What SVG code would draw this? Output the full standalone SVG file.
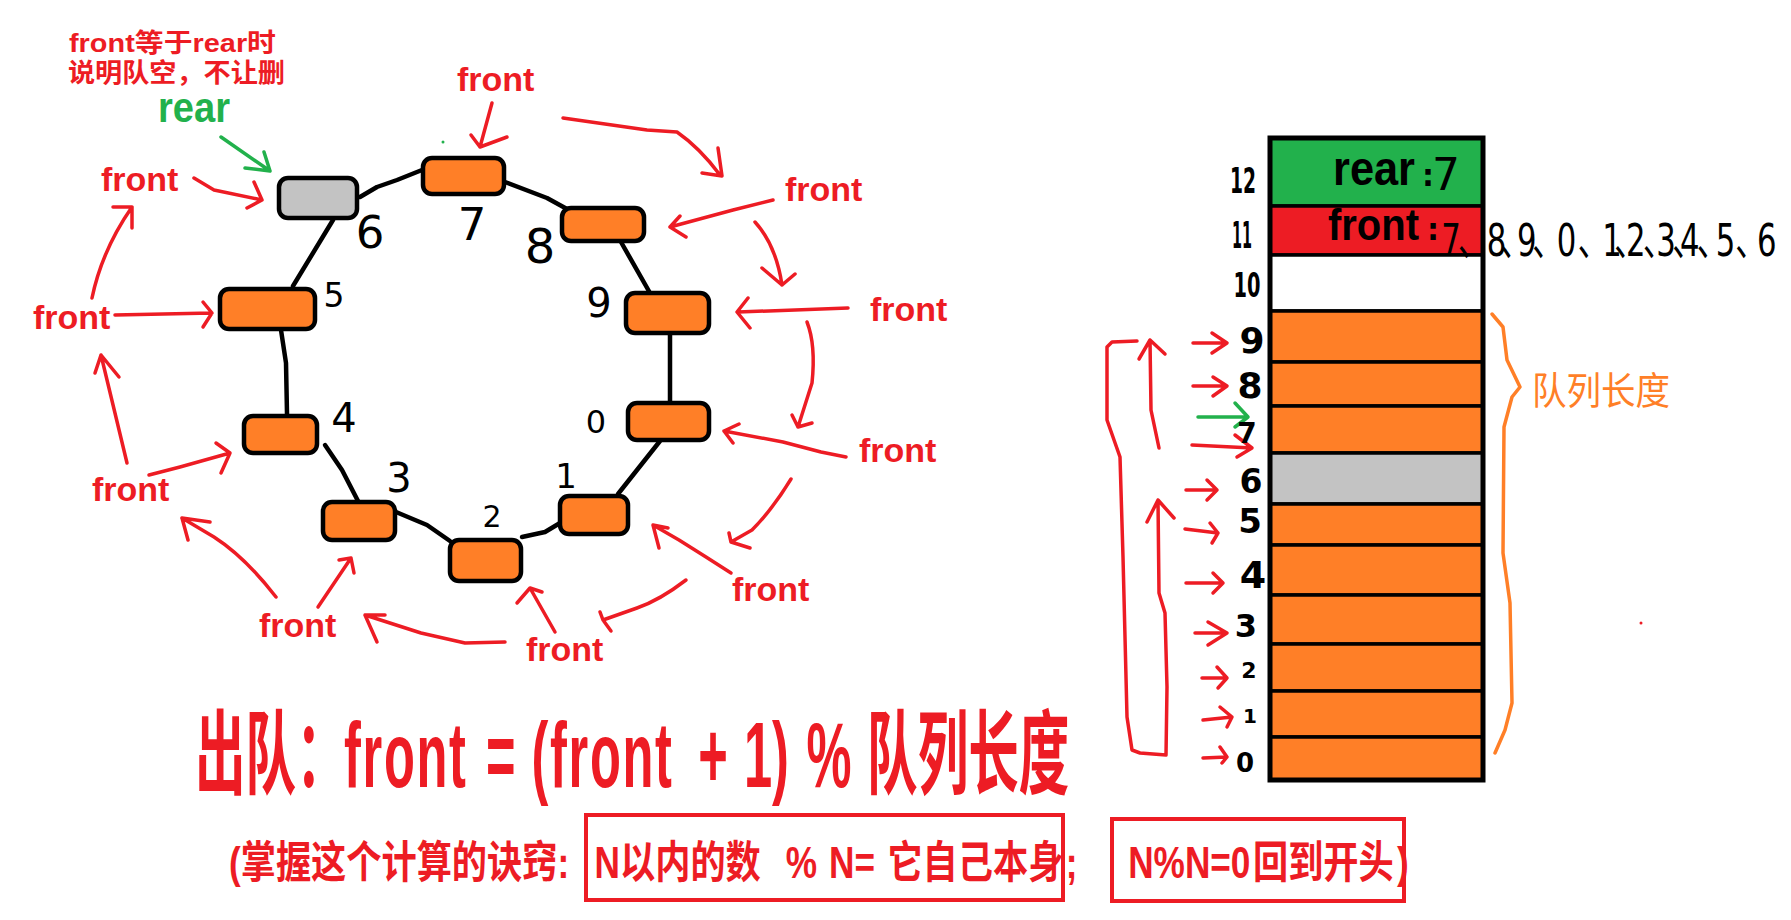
<svg xmlns="http://www.w3.org/2000/svg" width="1791" height="920" viewBox="0 0 1791 920">
<style>
.box{stroke:#000;stroke-width:4.5}
.or{fill:#FF7F27}
.gy{fill:#C3C3C3}
.ring{fill:none;stroke:#000;stroke-width:4.5;stroke-linecap:round;stroke-linejoin:round}
.ra{fill:none;stroke:#ED1C24;stroke-width:3.5;stroke-linecap:round;stroke-linejoin:round}
.ga{fill:none;stroke:#22B14C;stroke-width:3.5;stroke-linecap:round;stroke-linejoin:round}
.oa{fill:none;stroke:#FF7F27;stroke-width:3.5;stroke-linecap:round;stroke-linejoin:round}
.lbl{font-family:'Liberation Sans','Noto Sans CJK SC',sans-serif;font-weight:bold;font-size:34px;fill:#ED1C24}
.cjk{font-family:'Liberation Sans','Noto Sans CJK SC',sans-serif;font-weight:bold;fill:#ED1C24}
.hw{font-family:'DejaVu Sans',sans-serif;fill:#000;text-anchor:middle}
.hwb{font-family:'DejaVu Sans',sans-serif;font-weight:bold;fill:#000;text-anchor:middle}
.cell{stroke:#000;stroke-width:3.5}
.blk{font-family:'Liberation Sans',sans-serif;font-weight:bold;fill:#000}
.ls{letter-spacing:3px}
</style>
<rect width="1791" height="920" fill="#fff"/>

<!-- notes -->
<g id="note">
<text class="cjk" x="69" y="52" font-size="26" textLength="207" lengthAdjust="spacingAndGlyphs">front等于rear时</text>
<text class="cjk" x="68" y="82" font-size="26" textLength="217" lengthAdjust="spacingAndGlyphs">说明队空，不让删</text>
<text x="158" y="122" font-family="'Liberation Sans',sans-serif" font-weight="bold" font-size="42" fill="#22B14C" textLength="72" lengthAdjust="spacingAndGlyphs">rear</text>
</g>

<!-- connectors -->
<g id="connectors">
<path class="ring" d="M333,220 L293,286"/>
<path class="ring" d="M360,197 L377,187 L397,180 L422,170"/>
<path class="ring" d="M505,182 L547,198 L567,209"/>
<path class="ring" d="M621,242 L650,293"/>
<path class="ring" d="M670,333 L670,403"/>
<path class="ring" d="M660,441 L637,470 L618,494"/>
<path class="ring" d="M560,523 L545,532 L522,537"/>
<path class="ring" d="M450,541 L427,525 L396,512"/>
<path class="ring" d="M358,501 L342,470 L325,445"/>
<path class="ring" d="M287,414 L286,363 L281,330"/>

<path class="ra" d="M492,103 L480,147 M471,135 L480,147 L507,137"/>
<path class="ra" d="M563,118 L647,130 L677,132 Q700,148 720,175 M718,148 L722,176 L702,173"/>
<path class="ra" d="M773,200 L733,210 L670,227 M680,216 L670,227 L686,237"/>
<path class="ra" d="M755,222 Q776,245 782,285 M762,268 L782,285 L795,274"/>
<path class="ra" d="M848,308 L738,312 M748,298 L737,312 L750,328"/>
<path class="ra" d="M807,322 Q816,345 812,383 L798,427 M792,415 L798,427 L812,423"/>
<path class="ra" d="M846,457 L821,452 L783,442 L724,431 M739,424 L724,431 L733,443"/>
<path class="ra" d="M791,479 Q772,510 752,530 L731,542 M729,533 L731,542 L750,548"/>
<path class="ra" d="M731,573 L706,557 L679,540 L653,525 M668,528 L653,525 L659,548"/>
<path class="ra" d="M686,580 Q660,600 637,608 L603,620 M600,612 L603,620 L611,631"/>
<path class="ra" d="M555,632 L530,588 M517,603 L530,588 L542,592"/>
<path class="ra" d="M505,642 L465,643 L421,633 L365,615 M385,615 L365,615 L377,642"/>
<path class="ra" d="M318,607 L351,558 M339,560 L351,558 L354,573"/>
<path class="ra" d="M276,597 Q245,557 214,537 L182,518 M188,540 L182,518 L210,522"/>
<path class="ra" d="M149,475 L180,467 L230,453 M216,443 L230,453 L221,473"/>
<path class="ra" d="M127,463 L101,355 M95,373 L101,355 L119,377"/>
<path class="ra" d="M115,315 L212,313 M203,302 L212,313 L203,327"/>
<path class="ra" d="M92,298 Q102,250 132,207 M113,207 L132,207 L132,228"/>
<path class="ra" d="M194,178 L214,190 L262,200 M254,182 L262,200 L247,208"/>
<path class="ga" d="M221,137 L270,171 M264,152 L270,171 L245,168"/>
<circle cx="443" cy="142" r="1.5" fill="#22B14C"/>

<path class="ra" d="M1193,343 L1227,343 M1212,333 L1227,343 L1212,353"/>
<path class="ra" d="M1193,386 L1227,386 M1213,377 L1227,386 L1213,396"/>
<path class="ga" d="M1198,417 L1248,417 M1235,403 L1248,417 L1235,427"/>
<path class="ra" d="M1192,445 L1252,448 M1235,435 L1252,448 L1237,457"/>
<path class="ra" d="M1186,490 L1217,490 M1207,480 L1217,490 L1207,500"/>
<path class="ra" d="M1185,529 L1218,533 M1210,523 L1218,533 L1212,543"/>
<path class="ra" d="M1186,583 L1223,583 M1213,573 L1223,583 L1213,593"/>
<path class="ra" d="M1195,633 L1227,633 M1208,622 L1227,633 L1208,645"/>
<path class="ra" d="M1202,678 L1227,678 M1217,667 L1227,678 L1218,688"/>
<path class="ra" d="M1203,720 L1232,717 M1220,707 L1232,717 L1227,727"/>
<path class="ra" d="M1203,758 L1227,757 M1220,747 L1227,757 L1222,763"/>
<path class="ra" d="M1137,341 L1112,342 L1107,347 L1107,420 L1120,457 L1123,557 L1127,717 L1132,750 L1140,753 L1166,755 L1167,687 L1165,613 L1159,593 L1158,500 M1147,522 L1158,500 L1174,518"/>
<path class="ra" d="M1159,448 L1151,410 L1150,340 M1139,359 L1150,340 L1165,354"/>
<path class="oa" d="M1492,314 L1503,327 L1507,360 L1520,387 L1512,397 L1504,427 L1503,553 L1510,603 L1512,703 L1505,730 L1495,753"/>
<circle cx="1641" cy="623" r="1.5" fill="#ED1C24"/>
</g>

<!-- ring nodes -->
<g id="node-6"><rect class="box gy" x="279" y="178" width="78" height="40" rx="9"/><text class="hw" x="370" y="248" font-size="45">6</text></g>
<g id="node-7"><rect class="box or" x="423" y="158" width="81" height="36" rx="9"/><text class="hw" x="472" y="240" font-size="45">7</text></g>
<g id="node-8"><rect class="box or" x="562" y="208" width="82" height="33" rx="9"/><text class="hw" x="540" y="263" font-size="48">8</text></g>
<g id="node-9"><rect class="box or" x="626" y="293" width="83" height="40" rx="9"/><text class="hw" x="599" y="317" font-size="40">9</text></g>
<g id="node-0"><rect class="box or" x="628" y="403" width="81" height="37" rx="9"/><text class="hw" x="596" y="433" font-size="32">0</text></g>
<g id="node-1"><rect class="box or" x="560" y="496" width="68" height="38" rx="9"/><text class="hw" x="566" y="488" font-size="34">1</text></g>
<g id="node-2"><rect class="box or" x="450" y="540" width="71" height="41" rx="9"/><text class="hw" x="492" y="527" font-size="30">2</text></g>
<g id="node-3"><rect class="box or" x="323" y="502" width="72" height="38" rx="9"/><text class="hw" x="399" y="492" font-size="40">3</text></g>
<g id="node-4"><rect class="box or" x="244" y="416" width="73" height="37" rx="9"/><text class="hw" x="344" y="432" font-size="40">4</text></g>
<g id="node-5"><rect class="box or" x="220" y="289" width="95" height="40" rx="9"/><text class="hw" x="334" y="307" font-size="33">5</text></g>

<!-- front labels -->
<g id="front-labels">
<text class="lbl" x="457" y="91">front</text>
<text class="lbl" x="101" y="191">front</text>
<text class="lbl" x="33" y="329">front</text>
<text class="lbl" x="92" y="501">front</text>
<text class="lbl" x="259" y="637">front</text>
<text class="lbl" x="526" y="661">front</text>
<text class="lbl" x="732" y="601">front</text>
<text class="lbl" x="859" y="462">front</text>
<text class="lbl" x="870" y="321">front</text>
<text class="lbl" x="785" y="201">front</text>
</g>

<!-- array -->
<g id="array">
<g id="cell-12"><rect class="cell" x="1270" y="138" width="213" height="68" fill="#22B14C"/>
<text class="blk" x="1333" y="185" font-size="48" textLength="82" lengthAdjust="spacingAndGlyphs">rear</text>
<text class="hw" x="1428" y="186" font-size="30" font-weight="bold">:</text>
<text class="hw" x="1446" y="190" font-size="44">7</text>
<text class="hwb" x="1243" y="193" font-size="36" textLength="26" lengthAdjust="spacingAndGlyphs">12</text></g>
<g id="cell-11"><rect class="cell" x="1270" y="206" width="213" height="49" fill="#ED1C24"/>
<text class="blk" x="1328" y="240" font-size="44" textLength="91" lengthAdjust="spacingAndGlyphs">front</text>
<text class="hw" x="1433" y="240" font-size="30" font-weight="bold">:</text>
<text class="hwb" x="1242" y="248" font-size="38" textLength="20" lengthAdjust="spacingAndGlyphs">11</text></g>
<g id="cell-10"><rect class="cell" x="1270" y="255" width="213" height="56" fill="#fff"/>
<text class="hwb" x="1247" y="297" font-size="34" textLength="27" lengthAdjust="spacingAndGlyphs">10</text></g>
<g id="cell-9"><rect class="cell" x="1270" y="311" width="213" height="51" fill="#FF7F27"/><text class="hwb" x="1252" y="353" font-size="36">9</text></g>
<g id="cell-8"><rect class="cell" x="1270" y="362" width="213" height="44" fill="#FF7F27"/><text class="hwb" x="1250" y="398" font-size="36">8</text></g>
<g id="cell-7"><rect class="cell" x="1270" y="406" width="213" height="47" fill="#FF7F27"/><text class="hwb" x="1247" y="443" font-size="28">7</text></g>
<g id="cell-6"><rect class="cell" x="1270" y="453" width="213" height="51" fill="#C3C3C3"/><text class="hwb" x="1251" y="493" font-size="33">6</text></g>
<g id="cell-5"><rect class="cell" x="1270" y="504" width="213" height="41" fill="#FF7F27"/><text class="hwb" x="1250" y="533" font-size="34">5</text></g>
<g id="cell-4"><rect class="cell" x="1270" y="545" width="213" height="50" fill="#FF7F27"/><text class="hwb" x="1253" y="588" font-size="38">4</text></g>
<g id="cell-3"><rect class="cell" x="1270" y="595" width="213" height="49" fill="#FF7F27"/><text class="hwb" x="1246" y="637" font-size="32">3</text></g>
<g id="cell-2"><rect class="cell" x="1270" y="644" width="213" height="47" fill="#FF7F27"/><text class="hwb" x="1249" y="678" font-size="22">2</text></g>
<g id="cell-1"><rect class="cell" x="1270" y="691" width="213" height="46" fill="#FF7F27"/><text class="hwb" x="1250" y="723" font-size="20">1</text></g>
<g id="cell-0"><rect class="cell" x="1270" y="737" width="213" height="43" fill="#FF7F27"/><text class="hwb" x="1245" y="772" font-size="26">0</text></g>
<rect x="1270" y="138" width="213" height="642" fill="none" stroke="#000" stroke-width="5"/>
<text transform="scale(0.7,1)" y="256" font-family="'DejaVu Sans','Noto Sans CJK SC',sans-serif" font-size="44" fill="#000" x="2059 2083 2124 2143 2167 2189 2224 2254 2289 2306 2323 2347 2366 2389 2400 2424 2451 2479 2510">7、8、9、0、1、2、3、4、5、6</text>
<text x="1532" y="404" font-family="'Noto Sans CJK SC',sans-serif" font-size="38" fill="#FF7F27" textLength="138" lengthAdjust="spacingAndGlyphs">队列长度</text>
</g>

<!-- formula -->
<g id="formula">
<text class="cjk" transform="translate(195,787) scale(0.55,1)" font-size="92"><tspan x="0">出队：</tspan><tspan class="ls" x="271">front </tspan><tspan x="529">= </tspan><tspan class="ls" x="612">(front </tspan><tspan x="915">+ </tspan><tspan x="998">1) </tspan><tspan x="1112">% </tspan><tspan x="1222">队列长度</tspan></text>
<g id="box-1"><rect x="586" y="815" width="477" height="85" fill="none" stroke="#ED1C24" stroke-width="4"/></g>
<g id="box-2"><rect x="1112" y="819" width="292" height="82" fill="none" stroke="#ED1C24" stroke-width="4"/></g>
<text class="cjk" transform="translate(229,878) scale(0.8,1)" font-size="44"><tspan x="0">(掌握这个计算的诀窍: </tspan><tspan x="457">N以内的数 </tspan><tspan x="696">% </tspan><tspan x="750">N= </tspan><tspan x="823">它自己本身</tspan><tspan x="1046">; </tspan><tspan x="1124">N%N=0</tspan><tspan x="1280">回到开头</tspan><tspan x="1460">)</tspan></text>
</g>
</svg>
